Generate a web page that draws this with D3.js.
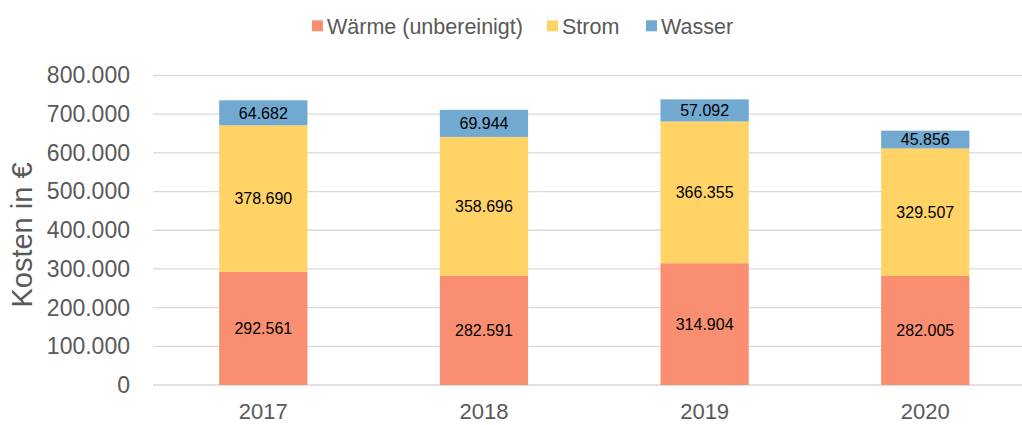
<!DOCTYPE html>
<html><head><meta charset="utf-8">
<script src="https://cdn.jsdelivr.net/npm/d3@7"></script>
<style>body{margin:0;background:#fff}svg{font-family:"Liberation Sans",Arial,sans-serif}</style>
</head><body><svg id="c" width="1022" height="425"></svg>
<script>
const years = ["2017","2018","2019","2020"];
const waerme = [292561, 282591, 314904, 282005];
const strom = [378690, 358696, 366355, 329507];
const wasser = [64682, 69944, 57092, 45856];
const seriesNames = ["Wärme (unbereinigt)","Strom","Wasser"];
const colors = ["#F98F70","#FFD366","#72A9D0"];
const yTicks = [0,100000,200000,300000,400000,500000,600000,700000,800000];

const svg = d3.select("#c");
const x = d3.scaleBand().domain(years).range([153,1035.6]).paddingInner(0.6).paddingOuter(0.3);
const y = d3.scaleLinear().domain([0,800000]).range([385,75.5]);
const fmt = v => d3.format(",")(v).replace(/,/g,".");

// gridlines
svg.append("g").selectAll("line").data(yTicks).join("line")
  .attr("x1",153).attr("x2",1022).attr("y1",d=>y(d)).attr("y2",d=>y(d))
  .attr("stroke","#d9d9d9").attr("stroke-width",1.3);

// y axis labels
const yAxis = d3.axisLeft(y).tickValues(yTicks).tickFormat(fmt).tickSize(0).tickPadding(0);
const ga = svg.append("g").attr("transform","translate(130,0)").call(yAxis);
ga.select(".domain").remove();
ga.selectAll("text").attr("font-size",23).attr("fill","#595959").attr("font-family","Liberation Sans, Arial, sans-serif");

// x axis labels
const xAxis = d3.axisBottom(x).tickSize(0).tickPadding(0);
const gx = svg.append("g").attr("transform","translate(0,403)").call(xAxis);
gx.select(".domain").remove();
gx.selectAll("text").attr("font-size",22).attr("fill","#595959").attr("font-family","Liberation Sans, Arial, sans-serif");

// stacked data
const data = years.map((yr,i)=>({year:yr, w:waerme[i], s:strom[i], a:wasser[i]}));
const stack = d3.stack().keys(["w","s","a"])(data);
stack.forEach((layer,k)=>{
  const g = svg.append("g");
  g.selectAll("rect").data(layer).join("rect")
    .attr("x",d=>x(d.data.year)).attr("width",x.bandwidth())
    .attr("y",d=>y(d[1])).attr("height",d=>y(d[0])-y(d[1]))
    .attr("fill",colors[k]);
  g.selectAll("text").data(layer).join("text")
    .attr("x",d=>x(d.data.year)+x.bandwidth()/2)
    .attr("y",d=>(y(d[0])+y(d[1]))/2)
    .attr("dy","0.36em").attr("text-anchor","middle")
    .attr("font-size",16).attr("fill","#000")
    .text(d=>fmt(d[1]-d[0]));
});

// y label
svg.append("text").attr("transform","translate(32,235) rotate(-90)")
  .attr("text-anchor","middle").attr("font-size",29).attr("fill","#595959")
  .text("Kosten in €");

// legend
const legX = [312,547,646];
const lg = svg.append("g");
seriesNames.forEach((n,i)=>{
  lg.append("rect").attr("x",legX[i]).attr("y",20.3).attr("width",11).attr("height",11).attr("fill",colors[i]);
  lg.append("text").attr("x",legX[i]+15).attr("y",34)
    .attr("font-size",21.5).attr("fill","#595959").text(n);
});
</script></body></html>
